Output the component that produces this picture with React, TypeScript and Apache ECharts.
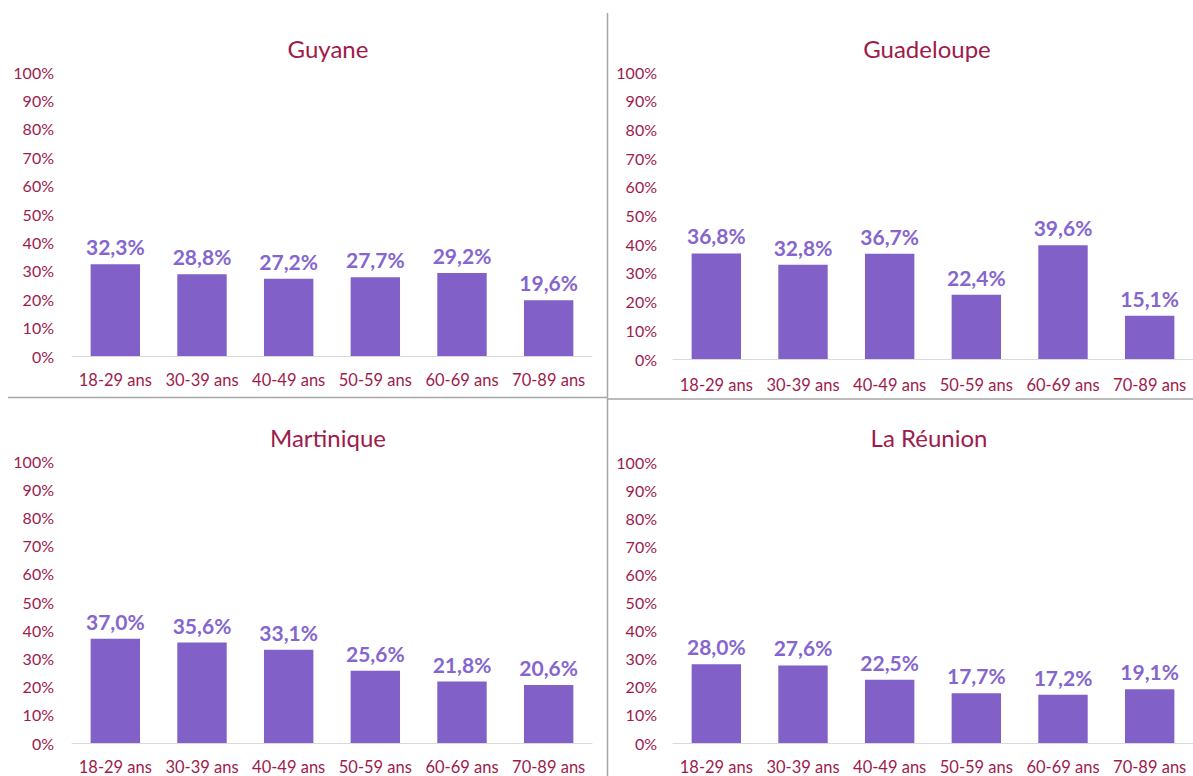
import React, { useEffect, useRef } from "react";
import * as echarts from "echarts";

const categories = ["18-29 ans", "30-39 ans", "40-49 ans", "50-59 ans", "60-69 ans", "70-89 ans"];
const regions = ["Guyane", "Guadeloupe", "Martinique", "La Réunion"];
const guyane = [32.3, 28.8, 27.2, 27.7, 29.2, 19.6];
const guadeloupe = [36.8, 32.8, 36.7, 22.4, 39.6, 15.1];
const martinique = [37.0, 35.6, 33.1, 25.6, 21.8, 20.6];
const reunion = [28.0, 27.6, 22.5, 17.7, 17.2, 19.1];
const seriesValues = [guyane, guadeloupe, martinique, reunion];

const FONT = "Lato, 'Noto Sans', sans-serif";
const RED = "#9E1B4B";
const BAR = "#8161C8";
const LABEL = "#8566CF";

const grids = [
  { left: 72, width: 520, top: 72, height: 284, labelMargin: 18, catMargin: 15, titleX: 323, titleY: 31 },
  { left: 673, width: 522, top: 72, height: 287, labelMargin: 16, catMargin: 17, titleX: 922, titleY: 31 },
  { left: 72, width: 520, top: 461, height: 282, labelMargin: 18, catMargin: 15, titleX: 323, titleY: 420 },
  { left: 673, width: 522, top: 462, height: 281, labelMargin: 16, catMargin: 15, titleX: 924, titleY: 420 },
];

export default function App() {
  const ref = useRef<HTMLDivElement>(null);
  useEffect(() => {
    document.body.style.margin = "0";
    if (!ref.current) return;
    const chart = echarts.init(ref.current, undefined, { renderer: "svg" });
    const option: any = {
      animation: false,
      backgroundColor: "#ffffff",
      title: grids.map((g, i) => ({
        text: regions[i],
        left: g.titleX,
        top: g.titleY,
        textAlign: "center",
        textStyle: { color: RED, fontFamily: FONT, fontSize: 24, fontWeight: "normal" },
      })),
      grid: grids.map((g) => ({ left: g.left, width: g.width, top: g.top, height: g.height })),
      xAxis: grids.map((g, i) => ({
        type: "category",
        gridIndex: i,
        data: categories,
        axisLine: { lineStyle: { color: "#D9D9D9", width: 1 } },
        axisTick: { show: false },
        axisLabel: { color: RED, fontFamily: FONT, fontSize: 16.5, margin: g.catMargin, interval: 0 },
      })),
      yAxis: grids.map((g, i) => ({
        type: "value",
        gridIndex: i,
        min: 0,
        max: 100,
        interval: 10,
        splitLine: { show: false },
        axisLine: { show: false },
        axisTick: { show: false },
        axisLabel: { color: RED, fontFamily: FONT, fontSize: 16, margin: g.labelMargin, formatter: "{value}%" },
      })),
      series: seriesValues.map((vals, i) => ({
        type: "bar",
        xAxisIndex: i,
        yAxisIndex: i,
        data: vals,
        barWidth: "57%",
        itemStyle: { color: BAR },
        label: {
          show: true,
          position: "top",
          distance: 7,
          color: LABEL,
          fontFamily: FONT,
          fontSize: 21,
          fontWeight: "bold",
          formatter: (p: any) => p.value.toFixed(1).replace(".", ",") + "%",
        },
      })),
      graphic: [
        { type: "line", shape: { x1: 607.5, y1: 13, x2: 607.5, y2: 776 }, style: { stroke: "#A6A6A6", lineWidth: 1.5 } },
        { type: "line", shape: { x1: 8, y1: 397.5, x2: 607, y2: 397.5 }, style: { stroke: "#A6A6A6", lineWidth: 1.5 } },
        { type: "line", shape: { x1: 608, y1: 399, x2: 1193, y2: 399 }, style: { stroke: "#A6A6A6", lineWidth: 1.5 } },
      ],
    };
    chart.setOption(option);
    return () => chart.dispose();
  }, []);
  return <div ref={ref} style={{ width: 1193, height: 776 }} />;
}
